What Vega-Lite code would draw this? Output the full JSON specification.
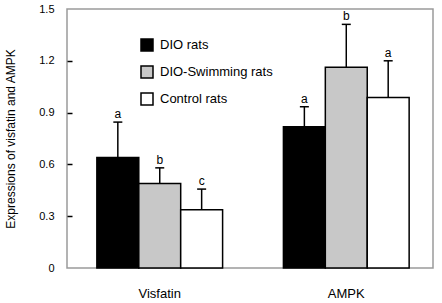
{
  "$schema": "https://vega.github.io/schema/vega-lite/v6.json",
  "width": 366,
  "height": 259,
  "autosize": {"type": "none"},
  "padding": {"left": 67, "top": 9, "right": 9, "bottom": 35},
  "config": {
    "view": {"stroke": "#9a9a9a", "strokeWidth": 1.5},
    "font": "Liberation Sans",
    "text": {"font": "Liberation Sans"}
  },
  "data": {
    "values": [
      {"group": "Visfatin", "series": "DIO rats", "value": 0.64, "upper": 0.845, "letter": "a"},
      {"group": "Visfatin", "series": "DIO-Swimming rats", "value": 0.49, "upper": 0.58, "letter": "b"},
      {"group": "Visfatin", "series": "Control rats", "value": 0.337, "upper": 0.457, "letter": "c"},
      {"group": "AMPK", "series": "DIO rats", "value": 0.818, "upper": 0.934, "letter": "a"},
      {"group": "AMPK", "series": "DIO-Swimming rats", "value": 1.162, "upper": 1.411, "letter": "b"},
      {"group": "AMPK", "series": "Control rats", "value": 0.988, "upper": 1.2, "letter": "a"}
    ]
  },
  "encoding": {
    "x": {
      "field": "group",
      "type": "nominal",
      "sort": ["Visfatin", "AMPK"],
      "scale": {"paddingInner": 0.326, "paddingOuter": 0.144, "align": 0.556},
      "axis": {
        "title": null,
        "labelAngle": 0,
        "ticks": false,
        "domain": false,
        "labelPadding": 19,
        "labelFontSize": 13,
        "labelColor": "black",
        "labelFont": "Liberation Sans"
      }
    },
    "xOffset": {
      "field": "series",
      "type": "nominal",
      "sort": ["DIO rats", "DIO-Swimming rats", "Control rats"],
      "scale": {"paddingInner": 0, "paddingOuter": 0}
    }
  },
  "layer": [
    {
      "mark": {"type": "bar", "stroke": "black", "strokeWidth": 1.5},
      "encoding": {
        "y": {
          "field": "value",
          "type": "quantitative",
          "title": "Expressions of visfatin and AMPK",
          "scale": {"domain": [0, 1.5], "nice": false},
          "axis": {
            "values": [0, 0.3, 0.6, 0.9, 1.2, 1.5],
            "format": ".1~f",
            "grid": false,
            "domain": false,
            "tickSize": -5,
            "tickColor": "black",
            "tickWidth": 1.5,
            "tickOpacity": {"condition": {"test": "datum.value == 0 || datum.value == 1.5", "value": 0}, "value": 1},
            "labelPadding": 18,
            "labelFontSize": 11,
            "labelColor": "black",
            "labelFont": "Liberation Sans",
            "titleFontSize": 12,
            "titleFontWeight": "normal",
            "titleColor": "black",
            "titleFont": "Liberation Sans",
            "titlePadding": 21
          }
        },
        "fill": {
          "field": "series",
          "type": "nominal",
          "scale": {
            "domain": ["DIO rats", "DIO-Swimming rats", "Control rats"],
            "range": ["black", "#c8c8c8", "white"]
          },
          "legend": {
            "title": null,
            "orient": "none",
            "legendX": 73,
            "legendY": 29,
            "padding": 0,
            "symbolType": "square",
            "symbolSize": 144,
            "symbolStrokeColor": "black",
            "symbolStrokeWidth": 1.5,
            "labelFontSize": 13,
            "labelColor": "black",
            "labelFont": "Liberation Sans",
            "labelOffset": 6,
            "rowPadding": 9
          }
        }
      }
    },
    {
      "mark": {"type": "rule", "stroke": "black", "strokeWidth": 1.5},
      "encoding": {
        "y": {"field": "value", "type": "quantitative", "title": "Expressions of visfatin and AMPK"},
        "y2": {"field": "upper"}
      }
    },
    {
      "mark": {"type": "tick", "color": "black", "thickness": 1.5, "size": 9, "opacity": 1},
      "encoding": {
        "y": {"field": "upper", "type": "quantitative", "title": "Expressions of visfatin and AMPK"}
      }
    },
    {
      "mark": {"type": "text", "dy": -4, "baseline": "alphabetic", "fontSize": 12, "color": "black"},
      "encoding": {
        "y": {"field": "upper", "type": "quantitative", "title": "Expressions of visfatin and AMPK"},
        "text": {"field": "letter"}
      }
    }
  ]
}
